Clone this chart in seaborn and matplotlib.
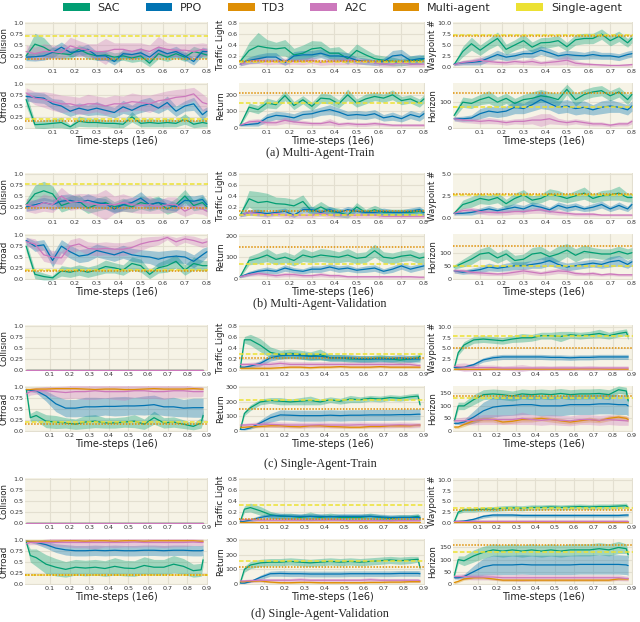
import numpy as np
import matplotlib
matplotlib.use("Agg")
import matplotlib.pyplot as plt
import seaborn as sns
from matplotlib.patches import Patch

# ---------------- data ----------------
x_multi = [-0.02, 0.02, 0.06, 0.10, 0.14, 0.18, 0.22, 0.26, 0.30, 0.34, 0.38,
           0.42, 0.46, 0.50, 0.54, 0.58, 0.62, 0.66, 0.70, 0.74, 0.78, 0.80]
x_single = [-0.02, 0.0, 0.03, 0.08, 0.13, 0.18, 0.23, 0.28, 0.33, 0.38, 0.43,
            0.48, 0.53, 0.58, 0.63, 0.68, 0.73, 0.78, 0.83, 0.87, 0.88]

metrics = ["Collision", "Traffic Light", "Waypoint #", "Offroad", "Return", "Horizon"]
algos = ["SAC", "PPO", "TD3", "A2C"]

# (a) multi-agent train
mt_coll_sac = [0.25, 0.52, 0.45, 0.33, 0.30, 0.28, 0.40, 0.30, 0.25, 0.27, 0.22, 0.25, 0.20, 0.25, 0.08, 0.30, 0.22, 0.30, 0.22, 0.35, 0.30, 0.27]
mt_coll_sac_sd = [0.10, 0.25, 0.22, 0.12, 0.12, 0.10, 0.10, 0.12, 0.10, 0.12, 0.10, 0.10, 0.10, 0.12, 0.08, 0.12, 0.10, 0.10, 0.10, 0.12, 0.10, 0.08]
mt_coll_ppo = [0.22, 0.23, 0.25, 0.33, 0.45, 0.33, 0.35, 0.40, 0.25, 0.25, 0.12, 0.30, 0.28, 0.32, 0.22, 0.38, 0.30, 0.35, 0.25, 0.12, 0.35, 0.35]
mt_coll_ppo_sd = [0.08, 0.10, 0.10, 0.12, 0.12, 0.10, 0.10, 0.12, 0.10, 0.10, 0.08, 0.10, 0.10, 0.12, 0.10, 0.10, 0.10, 0.12, 0.10, 0.08, 0.10, 0.08]
mt_coll_a2c = [0.35, 0.30, 0.35, 0.35, 0.32, 0.48, 0.42, 0.38, 0.35, 0.35, 0.40, 0.40, 0.35, 0.40, 0.35, 0.45, 0.40, 0.38, 0.38, 0.35, 0.40, 0.38]
mt_coll_a2c_sd = [0.15, 0.15, 0.18, 0.15, 0.15, 0.20, 0.18, 0.15, 0.18, 0.30, 0.15, 0.15, 0.20, 0.15, 0.15, 0.25, 0.15, 0.15, 0.15, 0.18, 0.15, 0.15]

mt_off_sac = [0.65, 0.07, 0.08, 0.10, 0.12, 0.02, 0.15, 0.12, 0.12, 0.10, 0.10, 0.08, 0.25, 0.10, 0.12, 0.10, 0.12, 0.10, 0.20, 0.08, 0.12, 0.10]
mt_off_sac_sd = [0.15, 0.08, 0.10, 0.10, 0.12, 0.05, 0.12, 0.10, 0.10, 0.08, 0.10, 0.08, 0.12, 0.08, 0.10, 0.08, 0.10, 0.08, 0.12, 0.08, 0.10, 0.08]
mt_off_ppo = [0.72, 0.70, 0.68, 0.55, 0.50, 0.38, 0.45, 0.40, 0.45, 0.40, 0.35, 0.48, 0.40, 0.50, 0.55, 0.45, 0.58, 0.38, 0.50, 0.55, 0.30, 0.38]
mt_off_ppo_sd = [0.10, 0.12, 0.12, 0.12, 0.15, 0.12, 0.12, 0.12, 0.15, 0.12, 0.12, 0.15, 0.12, 0.15, 0.15, 0.12, 0.15, 0.12, 0.12, 0.15, 0.12, 0.10]
mt_off_a2c = [0.80, 0.68, 0.65, 0.60, 0.55, 0.55, 0.50, 0.55, 0.55, 0.50, 0.55, 0.55, 0.60, 0.58, 0.55, 0.62, 0.65, 0.70, 0.72, 0.78, 0.58, 0.55]
mt_off_a2c_sd = [0.12, 0.15, 0.18, 0.20, 0.20, 0.18, 0.20, 0.22, 0.18, 0.20, 0.20, 0.18, 0.20, 0.18, 0.20, 0.18, 0.20, 0.18, 0.18, 0.15, 0.20, 0.15]

mt_tl_sac = [0.10, 0.30, 0.38, 0.35, 0.33, 0.35, 0.22, 0.25, 0.33, 0.35, 0.25, 0.25, 0.15, 0.30, 0.22, 0.15, 0.12, 0.10, 0.08, 0.12, 0.12, 0.15]
mt_tl_sac_sd = [0.05, 0.15, 0.25, 0.15, 0.12, 0.15, 0.12, 0.15, 0.15, 0.12, 0.10, 0.12, 0.10, 0.12, 0.10, 0.08, 0.08, 0.08, 0.06, 0.08, 0.08, 0.08]
mt_tl_ppo = [0.05, 0.12, 0.15, 0.18, 0.18, 0.08, 0.20, 0.22, 0.22, 0.25, 0.20, 0.20, 0.18, 0.12, 0.10, 0.08, 0.10, 0.20, 0.22, 0.12, 0.15, 0.15]
mt_tl_ppo_sd = [0.03, 0.06, 0.08, 0.08, 0.08, 0.05, 0.08, 0.08, 0.08, 0.08, 0.08, 0.08, 0.08, 0.06, 0.06, 0.05, 0.06, 0.10, 0.10, 0.08, 0.08, 0.06]
mt_tl_a2c = [0.05, 0.10, 0.12, 0.10, 0.10, 0.10, 0.10, 0.10, 0.12, 0.08, 0.10, 0.10, 0.12, 0.10, 0.10, 0.08, 0.05, 0.05, 0.08, 0.05, 0.05, 0.05]
mt_tl_a2c_sd = [0.03, 0.05, 0.06, 0.06, 0.05, 0.06, 0.05, 0.06, 0.06, 0.05, 0.06, 0.06, 0.08, 0.06, 0.05, 0.05, 0.04, 0.04, 0.05, 0.04, 0.04, 0.04]

mt_ret_sac = [15, 125, 110, 150, 140, 195, 135, 170, 130, 180, 175, 145, 200, 150, 175, 190, 180, 200, 165, 175, 150, 175]
mt_ret_sac_sd = [8, 25, 25, 30, 25, 30, 25, 25, 25, 30, 30, 25, 35, 25, 30, 25, 25, 30, 25, 25, 25, 25]
mt_ret_ppo = [15, 20, 25, 60, 75, 70, 60, 80, 85, 100, 110, 95, 75, 80, 75, 85, 60, 70, 55, 80, 65, 85]
mt_ret_ppo_sd = [5, 10, 15, 25, 25, 25, 25, 25, 25, 25, 30, 25, 25, 25, 25, 25, 20, 25, 20, 25, 25, 25]
mt_ret_a2c = [15, 35, 40, 30, 30, 45, 35, 30, 25, 25, 35, 20, 25, 20, 20, 25, 20, 15, 15, 15, 15, 15]
mt_ret_a2c_sd = [5, 15, 15, 15, 15, 20, 15, 15, 12, 12, 20, 12, 12, 12, 12, 12, 10, 8, 8, 8, 8, 8]

mt_wp_sac = [0.5, 3.5, 5.3, 3.8, 5.2, 6.5, 4.0, 5.0, 6.0, 4.5, 5.5, 5.6, 6.0, 4.6, 6.2, 6.5, 6.5, 7.5, 6.0, 7.0, 5.5, 6.5]
mt_wp_sac_sd = [0.3, 1.2, 1.5, 1.2, 1.2, 1.5, 1.2, 1.2, 1.5, 1.2, 1.2, 1.2, 1.2, 1.0, 1.2, 1.2, 1.2, 1.2, 1.2, 1.2, 1.0, 1.0]
mt_wp_ppo = [0.6, 0.9, 1.0, 1.2, 2.0, 2.8, 2.2, 2.5, 3.0, 3.0, 3.8, 3.2, 2.5, 2.8, 2.6, 2.5, 2.8, 2.5, 2.5, 2.2, 2.8, 3.0]
mt_wp_ppo_sd = [0.3, 0.5, 0.6, 0.8, 0.8, 1.0, 0.8, 0.8, 0.8, 1.0, 1.0, 1.0, 0.8, 1.0, 1.0, 0.8, 1.0, 0.8, 0.8, 0.8, 0.8, 0.8]
mt_wp_a2c = [0.5, 1.0, 1.2, 1.5, 1.2, 1.0, 0.9, 1.2, 1.0, 1.2, 0.8, 1.0, 1.2, 1.5, 0.8, 0.6, 0.5, 0.4, 0.3, 0.3, 0.4, 0.5]
mt_wp_a2c_sd = [0.3, 0.5, 0.6, 0.8, 0.6, 0.5, 0.5, 0.6, 0.5, 0.8, 0.5, 0.6, 0.8, 1.0, 0.6, 0.4, 0.3, 0.3, 0.2, 0.2, 0.3, 0.3]

mt_hor_sac = [48, 100, 95, 110, 120, 100, 115, 95, 110, 115, 125, 120, 110, 150, 110, 130, 140, 145, 125, 140, 110, 130]
mt_hor_sac_sd = [10, 20, 20, 20, 25, 20, 20, 20, 20, 25, 25, 20, 25, 20, 25, 20, 20, 20, 20, 20, 20, 15]
mt_hor_ppo = [35, 35, 38, 55, 65, 60, 65, 80, 75, 90, 110, 95, 80, 85, 75, 80, 70, 80, 85, 80, 70, 85]
mt_hor_ppo_sd = [8, 10, 12, 20, 20, 20, 20, 25, 20, 25, 35, 25, 25, 25, 25, 25, 20, 25, 25, 20, 20, 20]
mt_hor_a2c = [35, 30, 28, 25, 28, 25, 20, 25, 25, 30, 30, 35, 25, 20, 25, 20, 15, 15, 10, 15, 15, 25]
mt_hor_a2c_sd = [8, 10, 10, 10, 12, 10, 10, 10, 12, 15, 25, 20, 12, 10, 10, 10, 8, 8, 6, 8, 8, 10]

mt_multi_ref = [0.18, 0.11, 7.1, 0.15, 210, 136]
mt_single_ref = [0.71, 0.085, 7.2, 0.20, 150, 80]

# (b) multi-agent validation
mv_coll_sac = [0.30, 0.55, 0.62, 0.55, 0.28, 0.35, 0.38, 0.22, 0.30, 0.35, 0.25, 0.30, 0.25, 0.35, 0.30, 0.35, 0.20, 0.30, 0.50, 0.28, 0.35, 0.25]
mv_coll_sac_sd = [0.10, 0.20, 0.22, 0.18, 0.15, 0.15, 0.15, 0.12, 0.15, 0.15, 0.12, 0.15, 0.12, 0.15, 0.15, 0.15, 0.12, 0.15, 0.15, 0.12, 0.15, 0.12]
mv_coll_ppo = [0.25, 0.30, 0.35, 0.30, 0.38, 0.40, 0.35, 0.40, 0.35, 0.32, 0.20, 0.30, 0.35, 0.45, 0.30, 0.35, 0.30, 0.25, 0.40, 0.38, 0.42, 0.30]
mv_coll_ppo_sd = [0.10, 0.12, 0.12, 0.12, 0.15, 0.15, 0.12, 0.15, 0.12, 0.12, 0.10, 0.12, 0.12, 0.15, 0.12, 0.12, 0.12, 0.10, 0.12, 0.12, 0.12, 0.10]
mv_coll_a2c = [0.30, 0.25, 0.35, 0.30, 0.50, 0.35, 0.38, 0.35, 0.30, 0.30, 0.30, 0.35, 0.30, 0.28, 0.30, 0.25, 0.30, 0.30, 0.15, 0.25, 0.20, 0.15]
mv_coll_a2c_sd = [0.15, 0.15, 0.20, 0.18, 0.20, 0.18, 0.18, 0.20, 0.25, 0.35, 0.20, 0.20, 0.18, 0.18, 0.20, 0.15, 0.18, 0.18, 0.12, 0.15, 0.12, 0.12]

mv_off_sac = [0.75, 0.10, 0.05, 0.02, 0.18, 0.15, 0.20, 0.15, 0.20, 0.28, 0.25, 0.20, 0.35, 0.30, 0.10, 0.25, 0.30, 0.40, 0.20, 0.35, 0.30, 0.30]
mv_off_sac_sd = [0.12, 0.10, 0.08, 0.05, 0.12, 0.12, 0.12, 0.12, 0.12, 0.15, 0.12, 0.12, 0.15, 0.15, 0.10, 0.12, 0.15, 0.15, 0.12, 0.15, 0.12, 0.12]
mv_off_ppo = [0.88, 0.75, 0.78, 0.42, 0.75, 0.62, 0.52, 0.55, 0.65, 0.60, 0.55, 0.62, 0.55, 0.52, 0.50, 0.45, 0.50, 0.52, 0.50, 0.40, 0.55, 0.62]
mv_off_ppo_sd = [0.08, 0.12, 0.12, 0.15, 0.15, 0.15, 0.15, 0.15, 0.15, 0.15, 0.15, 0.15, 0.15, 0.15, 0.15, 0.18, 0.15, 0.15, 0.15, 0.15, 0.15, 0.12]
mv_off_a2c = [0.85, 0.80, 0.55, 0.50, 0.48, 0.75, 0.80, 0.70, 0.68, 0.70, 0.68, 0.68, 0.72, 0.80, 0.85, 0.88, 0.95, 0.85, 0.92, 0.88, 0.82, 0.85]
mv_off_a2c_sd = [0.10, 0.12, 0.15, 0.15, 0.15, 0.15, 0.15, 0.15, 0.15, 0.15, 0.15, 0.15, 0.15, 0.15, 0.12, 0.10, 0.05, 0.10, 0.08, 0.10, 0.10, 0.10]

mv_tl_sac = [0.05, 0.35, 0.28, 0.30, 0.26, 0.25, 0.22, 0.30, 0.12, 0.20, 0.12, 0.10, 0.05, 0.20, 0.10, 0.15, 0.10, 0.10, 0.10, 0.10, 0.12, 0.10]
mv_tl_sac_sd = [0.03, 0.15, 0.20, 0.15, 0.12, 0.12, 0.12, 0.12, 0.08, 0.10, 0.08, 0.08, 0.05, 0.08, 0.06, 0.08, 0.06, 0.06, 0.06, 0.06, 0.06, 0.06]
mv_tl_ppo = [0.05, 0.10, 0.10, 0.08, 0.10, 0.12, 0.05, 0.15, 0.15, 0.10, 0.15, 0.10, 0.15, 0.12, 0.10, 0.10, 0.12, 0.10, 0.10, 0.12, 0.15, 0.10]
mv_tl_ppo_sd = [0.03, 0.05, 0.06, 0.05, 0.05, 0.06, 0.04, 0.06, 0.06, 0.05, 0.06, 0.05, 0.06, 0.05, 0.05, 0.05, 0.06, 0.05, 0.05, 0.06, 0.06, 0.05]
mv_tl_a2c = [0.05, 0.10, 0.08, 0.05, 0.08, 0.05, 0.05, 0.05, 0.05, 0.08, 0.05, 0.05, 0.05, 0.05, 0.05, 0.05, 0.03, 0.03, 0.03, 0.03, 0.03, 0.03]
mv_tl_a2c_sd = [0.03, 0.05, 0.05, 0.04, 0.05, 0.04, 0.04, 0.04, 0.04, 0.05, 0.04, 0.04, 0.04, 0.04, 0.04, 0.04, 0.03, 0.03, 0.03, 0.03, 0.03, 0.03]

mv_ret_sac = [10, 85, 95, 110, 90, 100, 85, 110, 100, 110, 105, 100, 110, 95, 100, 130, 100, 95, 105, 110, 95, 100]
mv_ret_sac_sd = [5, 20, 25, 30, 25, 25, 25, 30, 25, 30, 30, 25, 30, 25, 25, 30, 25, 25, 25, 25, 25, 25]
mv_ret_ppo = [10, 25, 35, 40, 35, 50, 40, 35, 45, 45, 55, 45, 50, 40, 45, 50, 35, 45, 60, 45, 55, 60]
mv_ret_ppo_sd = [5, 10, 12, 15, 12, 15, 12, 12, 15, 15, 15, 15, 15, 12, 15, 15, 12, 15, 15, 15, 15, 15]
mv_ret_a2c = [10, 20, 25, 20, 15, 20, 20, 15, 15, 20, 15, 15, 10, 10, 10, 10, 10, 10, 10, 10, 8, 8]
mv_ret_a2c_sd = [5, 8, 10, 8, 8, 10, 10, 8, 8, 10, 8, 8, 6, 6, 6, 6, 6, 6, 6, 6, 5, 5]

mv_wp_sac = [0.5, 1.5, 1.8, 2.2, 2.0, 2.3, 1.6, 2.2, 2.6, 2.0, 2.2, 2.7, 2.5, 2.2, 2.5, 2.8, 2.2, 2.5, 2.6, 2.8, 2.3, 2.3]
mv_wp_sac_sd = [0.2, 0.5, 0.6, 0.6, 0.5, 0.6, 0.5, 0.6, 0.6, 0.5, 0.5, 0.6, 0.6, 0.5, 0.6, 0.7, 0.5, 0.6, 0.6, 0.8, 0.5, 0.5]
mv_wp_ppo = [0.5, 0.5, 0.6, 0.8, 1.0, 0.8, 1.0, 1.2, 1.0, 1.4, 1.2, 0.9, 1.4, 1.1, 1.3, 1.0, 1.2, 1.5, 1.0, 1.4, 1.0, 1.5]
mv_wp_ppo_sd = [0.2, 0.2, 0.3, 0.3, 0.4, 0.3, 0.4, 0.4, 0.4, 0.4, 0.4, 0.3, 0.4, 0.4, 0.4, 0.3, 0.4, 0.4, 0.3, 0.4, 0.3, 0.4]
mv_wp_a2c = [0.5, 0.8, 0.9, 0.7, 0.6, 0.6, 0.6, 0.7, 0.7, 0.8, 0.9, 0.7, 0.6, 0.5, 0.4, 0.4, 0.4, 0.3, 0.3, 0.3, 0.3, 0.3]
mv_wp_a2c_sd = [0.2, 0.3, 0.3, 0.3, 0.3, 0.3, 0.3, 0.3, 0.3, 0.3, 0.4, 0.3, 0.3, 0.2, 0.2, 0.2, 0.2, 0.1, 0.1, 0.1, 0.1, 0.1]

mv_hor_sac = [45, 60, 75, 95, 100, 80, 95, 70, 75, 95, 100, 85, 95, 110, 90, 105, 100, 95, 95, 105, 95, 100]
mv_hor_sac_sd = [8, 15, 20, 20, 25, 20, 20, 20, 20, 25, 25, 20, 30, 25, 25, 25, 20, 20, 20, 20, 20, 20]
mv_hor_ppo = [30, 25, 30, 35, 45, 40, 45, 50, 50, 55, 60, 70, 55, 45, 50, 55, 60, 55, 65, 70, 55, 65]
mv_hor_ppo_sd = [8, 8, 10, 12, 15, 12, 15, 15, 15, 15, 20, 20, 15, 15, 15, 15, 15, 15, 20, 20, 15, 15]
mv_hor_a2c = [30, 30, 25, 22, 20, 18, 20, 25, 30, 25, 20, 25, 30, 28, 20, 18, 20, 15, 18, 15, 15, 15]
mv_hor_a2c_sd = [8, 8, 8, 8, 8, 6, 8, 10, 10, 10, 8, 10, 10, 10, 8, 6, 8, 5, 6, 5, 5, 5]

mv_multi_ref = [0.23, 0.12, 2.75, 0.18, 145, 125]
mv_single_ref = [0.77, 0.05, 2.55, 0.20, 70, 48]

# single-agent collision stays at zero
collision_zero = [0, 0, 0, 0, 0, 0, 0, 0, 0, 0, 0, 0, 0, 0, 0, 0, 0, 0, 0, 0, 0]

# (c) single-agent train
st_off_sac = [0.95, 0.30, 0.35, 0.22, 0.20, 0.18, 0.15, 0.20, 0.22, 0.18, 0.18, 0.20, 0.22, 0.15, 0.30, 0.18, 0.20, 0.15, 0.10, 0.18, 0.35]
st_off_sac_sd = [0.03, 0.10, 0.12, 0.15, 0.15, 0.12, 0.12, 0.15, 0.15, 0.12, 0.12, 0.12, 0.15, 0.12, 0.15, 0.12, 0.12, 0.10, 0.08, 0.12, 0.15]
st_off_ppo = [0.95, 0.93, 0.92, 0.80, 0.62, 0.52, 0.52, 0.55, 0.55, 0.56, 0.56, 0.57, 0.57, 0.58, 0.60, 0.55, 0.55, 0.52, 0.53, 0.53, 0.53]
st_off_ppo_sd = [0.02, 0.03, 0.05, 0.12, 0.18, 0.20, 0.20, 0.22, 0.22, 0.20, 0.22, 0.22, 0.20, 0.22, 0.22, 0.20, 0.22, 0.20, 0.22, 0.22, 0.22]
st_off_td3 = [0.95, 0.95, 0.96, 0.96, 0.97, 0.97, 0.97, 0.96, 0.95, 0.96, 0.96, 0.95, 0.95, 0.96, 0.97, 0.96, 0.96, 0.96, 0.97, 0.96, 0.96]
st_off_td3_sd = [0.02, 0.02, 0.02, 0.02, 0.02, 0.02, 0.02, 0.02, 0.02, 0.02, 0.02, 0.02, 0.02, 0.02, 0.02, 0.02, 0.02, 0.02, 0.02, 0.02, 0.02]
st_off_a2c = [0.85, 0.90, 0.92, 0.92, 0.90, 0.88, 0.90, 0.90, 0.92, 0.90, 0.90, 0.90, 0.92, 0.92, 0.90, 0.90, 0.92, 0.92, 0.90, 0.90, 0.90]
st_off_a2c_sd = [0.08, 0.08, 0.08, 0.10, 0.12, 0.15, 0.15, 0.18, 0.20, 0.15, 0.18, 0.20, 0.15, 0.18, 0.15, 0.18, 0.15, 0.15, 0.12, 0.12, 0.10]

st_tl_sac = [0.05, 0.55, 0.55, 0.45, 0.32, 0.28, 0.30, 0.28, 0.25, 0.28, 0.22, 0.22, 0.20, 0.20, 0.20, 0.22, 0.20, 0.18, 0.20, 0.22, 0.25]
st_tl_sac_sd = [0.02, 0.06, 0.10, 0.12, 0.10, 0.08, 0.08, 0.08, 0.08, 0.10, 0.06, 0.06, 0.06, 0.06, 0.06, 0.06, 0.06, 0.06, 0.06, 0.06, 0.08]
st_tl_ppo = [0.05, 0.05, 0.07, 0.12, 0.22, 0.26, 0.27, 0.26, 0.25, 0.25, 0.22, 0.22, 0.22, 0.20, 0.20, 0.20, 0.20, 0.22, 0.20, 0.20, 0.20]
st_tl_ppo_sd = [0.02, 0.02, 0.03, 0.05, 0.06, 0.06, 0.06, 0.06, 0.06, 0.06, 0.06, 0.06, 0.06, 0.06, 0.06, 0.06, 0.06, 0.06, 0.06, 0.06, 0.06]
st_tl_td3 = [0.03, 0.03, 0.03, 0.03, 0.03, 0.04, 0.05, 0.05, 0.04, 0.05, 0.05, 0.06, 0.05, 0.05, 0.05, 0.06, 0.05, 0.05, 0.05, 0.05, 0.05]
st_tl_td3_sd = [0.02, 0.02, 0.02, 0.02, 0.02, 0.02, 0.02, 0.02, 0.02, 0.02, 0.02, 0.02, 0.02, 0.02, 0.02, 0.02, 0.02, 0.02, 0.02, 0.02, 0.02]
st_tl_a2c = [0.10, 0.10, 0.10, 0.10, 0.10, 0.12, 0.10, 0.10, 0.10, 0.10, 0.10, 0.10, 0.10, 0.10, 0.10, 0.10, 0.10, 0.10, 0.10, 0.08, 0.08]
st_tl_a2c_sd = [0.03, 0.03, 0.04, 0.05, 0.05, 0.05, 0.05, 0.05, 0.05, 0.05, 0.05, 0.05, 0.05, 0.05, 0.05, 0.05, 0.05, 0.05, 0.05, 0.04, 0.04]

st_ret_sac = [10, 120, 160, 200, 210, 205, 200, 205, 210, 200, 215, 205, 220, 215, 225, 220, 230, 225, 235, 240, 180]
st_ret_sac_sd = [5, 15, 20, 20, 20, 25, 20, 25, 30, 20, 20, 20, 25, 20, 20, 20, 20, 20, 20, 20, 15]
st_ret_ppo = [10, 10, 20, 55, 90, 110, 108, 105, 105, 105, 108, 105, 108, 108, 110, 110, 110, 112, 112, 115, 115]
st_ret_ppo_sd = [3, 5, 8, 20, 30, 35, 35, 38, 38, 38, 38, 38, 38, 38, 38, 38, 38, 38, 38, 38, 38]
st_ret_td3 = [25, 25, 28, 30, 35, 35, 30, 28, 35, 35, 30, 28, 25, 25, 30, 30, 35, 35, 35, 40, 40]
st_ret_td3_sd = [5, 5, 8, 8, 10, 10, 8, 8, 10, 10, 8, 8, 8, 8, 8, 8, 10, 10, 10, 10, 10]
st_ret_a2c = [40, 40, 42, 45, 45, 42, 40, 40, 40, 42, 40, 40, 40, 42, 40, 40, 40, 42, 40, 40, 40]
st_ret_a2c_sd = [10, 12, 15, 18, 20, 20, 20, 20, 20, 20, 20, 20, 20, 20, 20, 20, 20, 20, 20, 18, 18]

st_wp_sac = [0.5, 4.0, 5.8, 7.0, 7.2, 7.0, 6.8, 7.2, 7.5, 7.5, 8.0, 8.0, 7.8, 8.2, 8.0, 8.2, 8.5, 8.0, 8.5, 8.8, 7.8]
st_wp_sac_sd = [0.3, 0.6, 0.8, 0.8, 0.8, 0.8, 0.8, 0.8, 1.0, 0.8, 0.8, 0.8, 1.2, 0.8, 0.8, 0.8, 1.0, 0.8, 0.8, 0.8, 0.8]
st_wp_ppo = [0.5, 0.5, 0.6, 1.2, 2.3, 2.8, 3.0, 3.0, 3.0, 3.0, 3.0, 2.9, 2.9, 2.8, 2.9, 2.9, 3.0, 3.0, 3.0, 3.0, 3.0]
st_wp_ppo_sd = [0.2, 0.2, 0.3, 0.4, 0.5, 0.6, 0.6, 0.6, 0.6, 0.6, 0.6, 0.6, 0.6, 0.6, 0.6, 0.6, 0.6, 0.6, 0.6, 0.6, 0.6]
st_wp_td3 = [0.1, 0.1, 0.1, 0.1, 0.1, 0.15, 0.15, 0.15, 0.15, 0.15, 0.15, 0.15, 0.15, 0.15, 0.2, 0.2, 0.2, 0.15, 0.15, 0.15, 0.15]
st_wp_td3_sd = [0.1, 0.1, 0.1, 0.1, 0.1, 0.1, 0.1, 0.1, 0.1, 0.1, 0.1, 0.1, 0.1, 0.1, 0.1, 0.1, 0.1, 0.1, 0.1, 0.1, 0.1]
st_wp_a2c = [0.8, 0.7, 0.6, 0.5, 0.5, 0.5, 0.4, 0.4, 0.4, 0.4, 0.4, 0.4, 0.4, 0.4, 0.4, 0.4, 0.4, 0.4, 0.4, 0.4, 0.4]
st_wp_a2c_sd = [0.5, 0.8, 1.0, 0.8, 0.6, 0.6, 0.5, 0.6, 0.8, 0.5, 0.6, 0.5, 0.6, 0.6, 0.5, 0.6, 0.5, 0.5, 0.5, 0.5, 0.5]

st_hor_sac = [40, 100, 100, 125, 145, 148, 145, 140, 148, 145, 148, 145, 150, 145, 148, 148, 150, 145, 165, 160, 120]
st_hor_sac_sd = [8, 15, 15, 20, 20, 20, 20, 20, 20, 20, 20, 20, 20, 20, 20, 20, 20, 20, 15, 15, 15]
st_hor_ppo = [30, 30, 35, 55, 80, 95, 100, 102, 105, 105, 100, 100, 100, 105, 105, 105, 108, 108, 105, 105, 100]
st_hor_ppo_sd = [5, 5, 10, 25, 35, 40, 40, 40, 40, 40, 40, 40, 40, 40, 40, 40, 40, 40, 40, 40, 40]
st_hor_td3 = [15, 15, 25, 40, 45, 45, 35, 38, 45, 45, 50, 45, 40, 35, 40, 45, 40, 50, 55, 50, 45]
st_hor_td3_sd = [5, 5, 8, 8, 10, 10, 8, 8, 10, 10, 10, 10, 10, 8, 8, 10, 8, 10, 10, 10, 10]
st_hor_a2c = [40, 40, 40, 42, 45, 45, 45, 45, 50, 45, 42, 45, 42, 40, 45, 45, 42, 45, 42, 40, 40]
st_hor_a2c_sd = [10, 12, 15, 18, 20, 20, 20, 20, 25, 20, 20, 20, 20, 20, 20, 20, 20, 20, 20, 18, 18]

st_multi_ref = [None, 0.22, 5.1, 0.16, 150, 139]
st_single_ref = [None, 0.29, 7.9, 0.20, 215, 131]

# (d) single-agent validation
sv_off_sac = [0.95, 0.65, 0.60, 0.45, 0.38, 0.33, 0.38, 0.36, 0.38, 0.35, 0.40, 0.36, 0.35, 0.42, 0.38, 0.38, 0.45, 0.40, 0.30, 0.32, 0.55]
sv_off_sac_sd = [0.03, 0.15, 0.20, 0.22, 0.20, 0.18, 0.18, 0.18, 0.18, 0.18, 0.20, 0.18, 0.18, 0.20, 0.18, 0.18, 0.20, 0.18, 0.15, 0.15, 0.15]
sv_off_ppo = [0.98, 0.97, 0.95, 0.90, 0.82, 0.78, 0.76, 0.76, 0.77, 0.76, 0.77, 0.76, 0.76, 0.77, 0.77, 0.76, 0.77, 0.77, 0.76, 0.76, 0.77]
sv_off_ppo_sd = [0.02, 0.02, 0.04, 0.08, 0.10, 0.12, 0.12, 0.12, 0.12, 0.12, 0.12, 0.12, 0.12, 0.12, 0.12, 0.12, 0.12, 0.12, 0.12, 0.12, 0.12]
sv_off_td3 = [0.98, 0.98, 0.98, 0.98, 0.98, 0.99, 0.99, 0.98, 0.99, 0.99, 0.98, 0.99, 0.99, 0.98, 0.99, 0.99, 0.99, 0.99, 0.99, 0.98, 0.98]
sv_off_td3_sd = [0.01, 0.01, 0.01, 0.01, 0.01, 0.01, 0.01, 0.01, 0.01, 0.01, 0.01, 0.01, 0.01, 0.01, 0.01, 0.01, 0.01, 0.01, 0.01, 0.01, 0.01]
sv_off_a2c = [0.92, 0.95, 0.95, 0.95, 0.95, 0.95, 0.95, 0.95, 0.95, 0.95, 0.95, 0.95, 0.96, 0.95, 0.95, 0.95, 0.95, 0.95, 0.96, 0.95, 0.95]
sv_off_a2c_sd = [0.05, 0.05, 0.05, 0.08, 0.10, 0.10, 0.12, 0.12, 0.15, 0.10, 0.12, 0.10, 0.12, 0.10, 0.10, 0.12, 0.10, 0.10, 0.08, 0.08, 0.08]

sv_tl_sac = [0.03, 0.25, 0.28, 0.22, 0.15, 0.12, 0.12, 0.10, 0.12, 0.10, 0.12, 0.10, 0.10, 0.10, 0.12, 0.10, 0.08, 0.10, 0.10, 0.12, 0.08]
sv_tl_sac_sd = [0.01, 0.06, 0.08, 0.08, 0.06, 0.05, 0.06, 0.05, 0.08, 0.05, 0.06, 0.05, 0.05, 0.05, 0.06, 0.05, 0.05, 0.05, 0.05, 0.05, 0.04]
sv_tl_ppo = [0.02, 0.03, 0.05, 0.10, 0.13, 0.13, 0.12, 0.12, 0.12, 0.12, 0.11, 0.12, 0.12, 0.12, 0.12, 0.11, 0.10, 0.10, 0.10, 0.10, 0.10]
sv_tl_ppo_sd = [0.01, 0.02, 0.03, 0.04, 0.05, 0.05, 0.05, 0.05, 0.05, 0.05, 0.05, 0.05, 0.05, 0.05, 0.05, 0.05, 0.05, 0.05, 0.05, 0.05, 0.05]
sv_tl_td3 = [0.01, 0.01, 0.01, 0.01, 0.01, 0.01, 0.01, 0.01, 0.01, 0.01, 0.01, 0.01, 0.01, 0.01, 0.01, 0.01, 0.01, 0.01, 0.01, 0.01, 0.01]
sv_tl_td3_sd = [0.01, 0.01, 0.01, 0.01, 0.01, 0.01, 0.01, 0.01, 0.01, 0.01, 0.01, 0.01, 0.01, 0.01, 0.01, 0.01, 0.01, 0.01, 0.01, 0.01, 0.01]
sv_tl_a2c = [0.05, 0.06, 0.06, 0.05, 0.05, 0.05, 0.05, 0.05, 0.05, 0.05, 0.05, 0.05, 0.04, 0.04, 0.04, 0.04, 0.04, 0.04, 0.04, 0.04, 0.04]
sv_tl_a2c_sd = [0.03, 0.03, 0.03, 0.03, 0.03, 0.03, 0.03, 0.03, 0.03, 0.03, 0.03, 0.03, 0.03, 0.03, 0.03, 0.03, 0.03, 0.03, 0.03, 0.03, 0.03]

sv_ret_sac = [10, 100, 130, 145, 150, 150, 155, 150, 145, 150, 155, 150, 155, 150, 155, 160, 165, 160, 165, 170, 110]
sv_ret_sac_sd = [5, 20, 25, 25, 25, 25, 25, 25, 25, 25, 25, 25, 25, 25, 25, 25, 25, 25, 25, 20, 15]
sv_ret_ppo = [5, 5, 15, 45, 70, 72, 70, 70, 68, 68, 68, 68, 70, 70, 70, 70, 70, 72, 72, 72, 70]
sv_ret_ppo_sd = [2, 3, 5, 15, 18, 20, 20, 20, 20, 20, 20, 20, 20, 20, 20, 20, 20, 20, 20, 20, 20]
sv_ret_td3 = [15, 15, 18, 20, 12, 8, 8, 10, 10, 8, 8, 8, 8, 8, 10, 10, 12, 12, 15, 15, 15]
sv_ret_td3_sd = [6, 6, 6, 6, 6, 6, 6, 6, 6, 6, 6, 6, 6, 6, 6, 6, 6, 6, 6, 6, 6]
sv_ret_a2c = [20, 20, 22, 25, 25, 25, 25, 28, 25, 25, 25, 25, 25, 25, 28, 25, 25, 25, 25, 25, 22]
sv_ret_a2c_sd = [8, 10, 12, 12, 12, 12, 12, 15, 12, 12, 12, 12, 12, 12, 15, 12, 12, 12, 12, 12, 10]

sv_wp_sac = [0.3, 2.5, 3.0, 3.0, 3.2, 3.2, 3.4, 3.5, 3.4, 3.6, 3.6, 3.7, 3.6, 3.7, 3.8, 3.7, 3.8, 3.8, 3.9, 4.0, 3.5]
sv_wp_sac_sd = [0.2, 0.4, 0.5, 0.5, 0.5, 0.6, 0.6, 0.6, 0.6, 0.6, 0.6, 0.6, 0.6, 0.6, 0.6, 0.6, 0.6, 0.6, 0.6, 0.6, 0.5]
sv_wp_ppo = [0.3, 0.3, 0.4, 0.8, 1.5, 1.8, 1.8, 1.8, 1.7, 1.7, 1.7, 1.7, 1.7, 1.7, 1.7, 1.7, 1.7, 1.7, 1.7, 1.8, 1.8]
sv_wp_ppo_sd = [0.1, 0.1, 0.2, 0.3, 0.4, 0.4, 0.4, 0.4, 0.4, 0.4, 0.4, 0.4, 0.4, 0.4, 0.4, 0.4, 0.4, 0.4, 0.4, 0.4, 0.4]
sv_wp_td3 = [0.1, 0.1, 0.1, 0.1, 0.1, 0.1, 0.1, 0.1, 0.1, 0.1, 0.1, 0.1, 0.1, 0.1, 0.1, 0.1, 0.1, 0.1, 0.1, 0.1, 0.1]
sv_wp_td3_sd = [0.05, 0.05, 0.05, 0.05, 0.05, 0.05, 0.05, 0.05, 0.05, 0.05, 0.05, 0.05, 0.05, 0.05, 0.05, 0.05, 0.05, 0.05, 0.05, 0.05, 0.05]
sv_wp_a2c = [0.3, 0.3, 0.3, 0.3, 0.3, 0.3, 0.3, 0.3, 0.3, 0.3, 0.3, 0.3, 0.3, 0.3, 0.3, 0.3, 0.3, 0.3, 0.3, 0.3, 0.3]
sv_wp_a2c_sd = [0.3, 0.3, 0.3, 0.3, 0.3, 0.3, 0.3, 0.3, 0.3, 0.3, 0.3, 0.3, 0.3, 0.3, 0.3, 0.3, 0.3, 0.3, 0.3, 0.3, 0.3]

sv_hor_sac = [35, 100, 95, 115, 130, 140, 135, 140, 135, 140, 135, 140, 135, 140, 140, 140, 145, 140, 150, 145, 120]
sv_hor_sac_sd = [8, 15, 20, 25, 25, 25, 25, 25, 25, 25, 25, 25, 25, 25, 25, 25, 25, 25, 25, 20, 15]
sv_hor_ppo = [25, 25, 30, 50, 70, 78, 78, 78, 80, 78, 78, 78, 78, 78, 80, 80, 80, 80, 80, 78, 75]
sv_hor_ppo_sd = [5, 5, 10, 25, 35, 40, 40, 40, 40, 40, 40, 40, 40, 40, 40, 40, 40, 40, 40, 40, 40]
sv_hor_td3 = [5, 10, 20, 25, 25, 20, 15, 15, 15, 15, 15, 15, 15, 15, 15, 15, 15, 15, 20, 20, 20]
sv_hor_td3_sd = [5, 5, 5, 5, 5, 5, 5, 5, 5, 5, 5, 5, 5, 5, 5, 5, 5, 5, 5, 5, 5]
sv_hor_a2c = [30, 30, 30, 28, 28, 28, 25, 25, 25, 25, 25, 25, 25, 25, 25, 25, 25, 25, 25, 22, 22]
sv_hor_a2c_sd = [8, 10, 12, 12, 12, 12, 12, 12, 15, 12, 12, 12, 12, 12, 12, 12, 12, 12, 12, 10, 10]

sv_multi_ref = [None, 0.07, 2.9, 0.19, 118, 162]
sv_single_ref = [None, 0.32, 3.4, 0.20, 160, 132]

# tick labels
rate_ticks = [0.0, 0.25, 0.5, 0.75, 1.0]
rate_labels = ["0.0", "0.25", "0.5", "0.75", "1.0"]
tl_ticks = [0.0, 0.2, 0.4, 0.6, 0.8]
tl_labels = ["0.0", "0.2", "0.4", "0.6", "0.8"]
wp_ticks = [0.0, 2.5, 5.0, 7.5, 10.0]
wp_labels = ["0.0", "2.5", "5.0", "7.5", "10.0"]
wp_ticks_small = [0.0, 2.5, 5.0]
wp_labels_small = ["0.0", "2.5", "5.0"]
ret_ticks = [0, 100, 200]
ret_ticks_big = [0, 100, 200, 300]
hor_ticks_a = [0, 100]
hor_ticks_b = [0, 50, 100]
hor_ticks_cd = [0, 50, 100, 150]
xt_multi = [0.1, 0.2, 0.3, 0.4, 0.5, 0.6, 0.7, 0.8]
xt_single = [0.1, 0.2, 0.3, 0.4, 0.5, 0.6, 0.7, 0.8, 0.9]

# ---------------- style ----------------
sns.set_style("whitegrid", rc={"axes.facecolor": "#f6f3e6", "grid.color": "#e3dfd0",
                               "grid.linewidth": 0.6, "axes.edgecolor": "#f6f3e6"})
plt.rcParams['font.family'] = ['DejaVu Sans']

pal = sns.color_palette("colorblind")
colors = {"SAC": pal[2], "PPO": pal[0], "TD3": pal[1], "A2C": pal[4]}
c_multi = pal[1]
c_single = pal[8]


def rate_axis(lim=(-0.03, 1.03)):
    return (rate_ticks, rate_labels, lim)


panels = [
    dict(caption="(a) Multi-Agent-Train", x=x_multi, xt=xt_multi, xlim=(-0.025, 0.805),
         series=[
             {"SAC": (mt_coll_sac, mt_coll_sac_sd), "PPO": (mt_coll_ppo, mt_coll_ppo_sd), "A2C": (mt_coll_a2c, mt_coll_a2c_sd)},
             {"SAC": (mt_tl_sac, mt_tl_sac_sd), "PPO": (mt_tl_ppo, mt_tl_ppo_sd), "A2C": (mt_tl_a2c, mt_tl_a2c_sd)},
             {"SAC": (mt_wp_sac, mt_wp_sac_sd), "PPO": (mt_wp_ppo, mt_wp_ppo_sd), "A2C": (mt_wp_a2c, mt_wp_a2c_sd)},
             {"SAC": (mt_off_sac, mt_off_sac_sd), "PPO": (mt_off_ppo, mt_off_ppo_sd), "A2C": (mt_off_a2c, mt_off_a2c_sd)},
             {"SAC": (mt_ret_sac, mt_ret_sac_sd), "PPO": (mt_ret_ppo, mt_ret_ppo_sd), "A2C": (mt_ret_a2c, mt_ret_a2c_sd)},
             {"SAC": (mt_hor_sac, mt_hor_sac_sd), "PPO": (mt_hor_ppo, mt_hor_ppo_sd), "A2C": (mt_hor_a2c, mt_hor_a2c_sd)},
         ],
         multi=mt_multi_ref, single=mt_single_ref,
         yaxes=[rate_axis(), (tl_ticks, tl_labels, (-0.02, 0.82)), (wp_ticks, wp_labels, (-0.3, 10.3)),
                rate_axis(), (ret_ticks, None, (-8, 272)), (hor_ticks_a, None, (-5, 175))]),
    dict(caption="(b) Multi-Agent-Validation", x=x_multi, xt=xt_multi, xlim=(-0.025, 0.805),
         series=[
             {"SAC": (mv_coll_sac, mv_coll_sac_sd), "PPO": (mv_coll_ppo, mv_coll_ppo_sd), "A2C": (mv_coll_a2c, mv_coll_a2c_sd)},
             {"SAC": (mv_tl_sac, mv_tl_sac_sd), "PPO": (mv_tl_ppo, mv_tl_ppo_sd), "A2C": (mv_tl_a2c, mv_tl_a2c_sd)},
             {"SAC": (mv_wp_sac, mv_wp_sac_sd), "PPO": (mv_wp_ppo, mv_wp_ppo_sd), "A2C": (mv_wp_a2c, mv_wp_a2c_sd)},
             {"SAC": (mv_off_sac, mv_off_sac_sd), "PPO": (mv_off_ppo, mv_off_ppo_sd), "A2C": (mv_off_a2c, mv_off_a2c_sd)},
             {"SAC": (mv_ret_sac, mv_ret_sac_sd), "PPO": (mv_ret_ppo, mv_ret_ppo_sd), "A2C": (mv_ret_a2c, mv_ret_a2c_sd)},
             {"SAC": (mv_hor_sac, mv_hor_sac_sd), "PPO": (mv_hor_ppo, mv_hor_ppo_sd), "A2C": (mv_hor_a2c, mv_hor_a2c_sd)},
         ],
         multi=mv_multi_ref, single=mv_single_ref,
         yaxes=[rate_axis(), (tl_ticks, tl_labels, (-0.02, 0.82)), (wp_ticks_small, wp_labels_small, (-0.15, 5.1)),
                rate_axis(), (ret_ticks, None, (-5, 207)), (hor_ticks_b, None, (-5, 172))]),
    dict(caption="(c) Single-Agent-Train", x=x_single, xt=xt_single, xlim=(-0.027, 0.905),
         series=[
             {"SAC": (collision_zero, collision_zero), "PPO": (collision_zero, collision_zero),
              "TD3": (collision_zero, collision_zero), "A2C": (collision_zero, collision_zero)},
             {"SAC": (st_tl_sac, st_tl_sac_sd), "PPO": (st_tl_ppo, st_tl_ppo_sd), "TD3": (st_tl_td3, st_tl_td3_sd), "A2C": (st_tl_a2c, st_tl_a2c_sd)},
             {"SAC": (st_wp_sac, st_wp_sac_sd), "PPO": (st_wp_ppo, st_wp_ppo_sd), "TD3": (st_wp_td3, st_wp_td3_sd), "A2C": (st_wp_a2c, st_wp_a2c_sd)},
             {"SAC": (st_off_sac, st_off_sac_sd), "PPO": (st_off_ppo, st_off_ppo_sd), "TD3": (st_off_td3, st_off_td3_sd), "A2C": (st_off_a2c, st_off_a2c_sd)},
             {"SAC": (st_ret_sac, st_ret_sac_sd), "PPO": (st_ret_ppo, st_ret_ppo_sd), "TD3": (st_ret_td3, st_ret_td3_sd), "A2C": (st_ret_a2c, st_ret_a2c_sd)},
             {"SAC": (st_hor_sac, st_hor_sac_sd), "PPO": (st_hor_ppo, st_hor_ppo_sd), "TD3": (st_hor_td3, st_hor_td3_sd), "A2C": (st_hor_a2c, st_hor_a2c_sd)},
         ],
         multi=st_multi_ref, single=st_single_ref,
         yaxes=[rate_axis(), (tl_ticks, tl_labels, (-0.02, 0.82)), (wp_ticks, wp_labels, (-0.3, 10.5)),
                rate_axis(), (ret_ticks_big, None, (-8, 310)), (hor_ticks_cd, None, (-5, 180))]),
    dict(caption="(d) Single-Agent-Validation", x=x_single, xt=xt_single, xlim=(-0.027, 0.905),
         series=[
             {"SAC": (collision_zero, collision_zero), "PPO": (collision_zero, collision_zero),
              "TD3": (collision_zero, collision_zero), "A2C": (collision_zero, collision_zero)},
             {"SAC": (sv_tl_sac, sv_tl_sac_sd), "PPO": (sv_tl_ppo, sv_tl_ppo_sd), "TD3": (sv_tl_td3, sv_tl_td3_sd), "A2C": (sv_tl_a2c, sv_tl_a2c_sd)},
             {"SAC": (sv_wp_sac, sv_wp_sac_sd), "PPO": (sv_wp_ppo, sv_wp_ppo_sd), "TD3": (sv_wp_td3, sv_wp_td3_sd), "A2C": (sv_wp_a2c, sv_wp_a2c_sd)},
             {"SAC": (sv_off_sac, sv_off_sac_sd), "PPO": (sv_off_ppo, sv_off_ppo_sd), "TD3": (sv_off_td3, sv_off_td3_sd), "A2C": (sv_off_a2c, sv_off_a2c_sd)},
             {"SAC": (sv_ret_sac, sv_ret_sac_sd), "PPO": (sv_ret_ppo, sv_ret_ppo_sd), "TD3": (sv_ret_td3, sv_ret_td3_sd), "A2C": (sv_ret_a2c, sv_ret_a2c_sd)},
             {"SAC": (sv_hor_sac, sv_hor_sac_sd), "PPO": (sv_hor_ppo, sv_hor_ppo_sd), "TD3": (sv_hor_td3, sv_hor_td3_sd), "A2C": (sv_hor_a2c, sv_hor_a2c_sd)},
         ],
         multi=sv_multi_ref, single=sv_single_ref,
         yaxes=[rate_axis(), (tl_ticks, tl_labels, (-0.02, 0.82)), (wp_ticks, wp_labels, (-0.3, 10.5)),
                rate_axis(), (ret_ticks_big, None, (-8, 310)), (hor_ticks_cd, None, (-5, 185))]),
]

# ---------------- figure ----------------
W, H = 640, 622
fig = plt.figure(figsize=(W / 100, H / 100), dpi=100)
col_left = [25, 239, 453]
col_w = [183, 186, 180]
ylabel_off = [20.5, 18.5, 20.5]
panel_top = [22, 173, 325, 478]
caption_y = [153, 304, 464, 614]
row_h = 46
row_step = 61

for p, panel in enumerate(panels):
    top = panel_top[p]
    x = np.array(panel["x"])
    for k, name in enumerate(metrics):
        r, c = divmod(k, 3)
        y0 = top + r * row_step
        ax = fig.add_axes([col_left[c] / W, 1 - (y0 + row_h) / H, col_w[c] / W, row_h / H])
        series = panel["series"][k]
        for algo in algos:
            if algo not in series:
                continue
            mean, sd = series[algo]
            mean = np.array(mean, dtype=float)
            sd = np.array(sd, dtype=float)
            ax.fill_between(x, mean - sd, mean + sd, color=colors[algo], alpha=0.35, lw=0)
            sns.lineplot(x=x, y=mean, ax=ax, color=colors[algo], lw=0.9)
        m_ref = panel["multi"][k]
        s_ref = panel["single"][k]
        if s_ref is not None:
            ax.axhline(s_ref, color=c_single, ls=(0, (3, 1.5)), lw=1.1, zorder=5)
        if m_ref is not None:
            ax.axhline(m_ref, color=c_multi, ls=(0, (1, 1)), lw=1.1, zorder=5)

        yt, yl, ylim = panel["yaxes"][k]
        ax.set_yticks(yt)
        if yl is not None:
            ax.set_yticklabels(yl)
        ax.set_ylim(*ylim)
        ax.set_xticks(panel["xt"])
        ax.set_xticklabels([str(v) for v in panel["xt"]])
        ax.set_xlim(*panel["xlim"])
        ax.tick_params(axis="both", labelsize=4.6, length=0, pad=1.0, colors="#333333")
        for s in ax.spines.values():
            s.set_visible(False)
        ax.set_ylabel(name, fontsize=6.2, color="#222222")
        ax.yaxis.label.set_verticalalignment("center")
        ax.yaxis.set_label_coords(-ylabel_off[c] / col_w[c], 0.5)
        if r == 1:
            ax.set_xlabel("Time-steps (1e6)", fontsize=7.0, labelpad=0.5, color="#222222")
        else:
            ax.set_xlabel("")

    fig.text(0.5, 1 - caption_y[p] / H, panel["caption"], ha="center", va="center",
             fontsize=8.8, family=["Liberation Serif", "DejaVu Serif"])

legend_names = ["SAC", "PPO", "TD3", "A2C", "Multi-agent", "Single-agent"]
legend_colors = [colors["SAC"], colors["PPO"], colors["TD3"], colors["A2C"], c_multi, c_single]
handles = [Patch(facecolor=col, edgecolor="none", label=n) for n, col in zip(legend_names, legend_colors)]
fig.legend(handles=handles, loc="upper center", bbox_to_anchor=(0.535, 1.012), ncol=6,
           frameon=False, fontsize=8, handlelength=2.4, handleheight=0.75,
           columnspacing=2.3, handletextpad=0.7)

fig.savefig("out.png", dpi=100)
